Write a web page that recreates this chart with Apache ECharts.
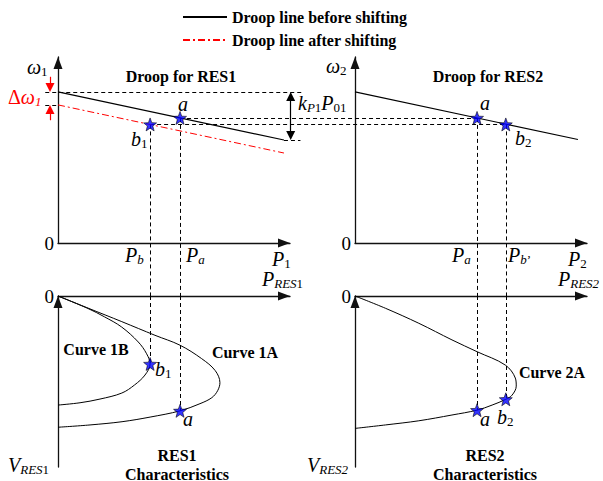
<!DOCTYPE html>
<html>
<head>
<meta charset="utf-8">
<script src="https://cdn.jsdelivr.net/npm/echarts@6/dist/echarts.min.js"></script>
<style>
  html, body { margin: 0; padding: 0; background: #fff; }
  #chart { width: 603px; height: 481px; }
</style>
</head>
<body>
<div id="chart"></div>
<script>
// ---- Droop characteristics, (P, ω) in per-unit drawing units ----
const droopBefore1 = [[0, 6.5], [9.74, 4.43]];
const droopAfter1 = [[0, 5.94], [9.74, 3.87]];
const droopBefore2 = [[0, 6.5], [9.61, 4.45]];

// Operating points on the droop lines
const P_a = 5.26;
const P_b = 3.97;
const P_bPrime = 6.5;
const omega_0 = 6.5;        // no-load frequency before shifting
const omega_0shift = 5.94;  // no-load frequency after shifting
const omega_end = 4.43;     // frequency at rated power
const omega_a = 5.38;
const omega_b = 5.10;

// ---- P–V nose curves, (P, V) with V growing downward ----
const curve1A = [[0, 0], [1.31, 0.53], [2.75, 1.11], [4.18, 1.70], [5.26, 2.13], [6.19, 2.71],
  [6.77, 3.22], [6.98, 3.75], [6.88, 4.10], [6.63, 4.40], [6.12, 4.66], [5.26, 4.97],
  [3.97, 5.24], [2.76, 5.44], [1.38, 5.58], [0, 5.68]];
const curve1B = [[0, 0], [1.29, 0.54], [2.0, 0.90], [2.74, 1.34], [3.46, 1.99], [3.82, 2.50],
  [3.97, 2.94], [3.75, 3.42], [3.30, 3.85], [2.75, 4.20], [1.81, 4.46], [0.95, 4.62], [0, 4.72]];
const curve2A = [[0, 0], [1.31, 0.53], [2.75, 1.18], [4.18, 1.90], [5.26, 2.41], [6.48, 2.99],
  [6.91, 3.55], [6.95, 3.90], [6.77, 4.29], [6.50, 4.47], [5.91, 4.72], [5.26, 4.94],
  [4.18, 5.15], [2.75, 5.40], [1.31, 5.58], [0, 5.73]];
const V_a1 = 4.97, V_b1 = 2.94, V_a2 = 4.94, V_b2 = 4.47;

// ---- Texts ----
const legendNames = ['Droop line before shifting', 'Droop line after shifting'];
const panelTitles = ['Droop for RES1', 'Droop for RES2'];
const curveNames = ['Curve 1B', 'Curve 1A', 'Curve 2A'];
const charTitles = ['RES1', 'RES2'];
const charSubtitle = 'Characteristics';

// ---- Layout ----
const SERIF = "'Liberation Serif', 'Times New Roman', serif";
const GRID_W = 232, H_TOP = 186, H_BOT = 171;
const X_MAX = 10, W_MAX = 8, V_MAX = 7.4;
const grids = [
  { left: 58, top: 57, width: GRID_W, height: H_TOP },   // droop RES1
  { left: 355, top: 57, width: GRID_W, height: H_TOP },  // droop RES2
  { left: 58, top: 296, width: GRID_W, height: H_BOT },  // P-V RES1
  { left: 355, top: 296, width: GRID_W, height: H_BOT }  // P-V RES2
];
const pxPerX = GRID_W / X_MAX;
const pxPerW = H_TOP / W_MAX;
// distance between the upper and lower P axes, in ω units
const gapW = (grids[2].top - (grids[0].top + H_TOP)) / pxPerW;
// horizontal offset of the RES2 panels, in P units of the RES1 panel
const xShift = (grids[1].left - grids[0].left) / pxPerX;

const AXIS_COLOR = '#111';
function axisLineStyle() {
  return {
    show: true, onZero: false,
    symbol: ['none', 'triangle'], symbolSize: [9, 12], symbolOffset: [0, -6],
    lineStyle: { color: AXIS_COLOR, width: 1.3 }
  };
}
function xAxisFor(i, position) {
  return {
    gridIndex: i, type: 'value', min: 0, max: X_MAX, position,
    axisLine: axisLineStyle(), axisTick: { show: false },
    axisLabel: { show: false }, splitLine: { show: false }
  };
}
function yAxisFor(i, max, inverse) {
  return {
    gridIndex: i, type: 'value', min: 0, max, interval: max, inverse,
    axisLine: axisLineStyle(), axisTick: { show: false }, splitLine: { show: false },
    axisLabel: {
      formatter: v => (v === 0 ? '0' : ''), fontFamily: SERIF, fontSize: 19,
      color: '#000', margin: 4
    }
  };
}

// five-pointed star marker
function starSymbol() {
  let d = '';
  for (let k = 0; k < 10; k++) {
    const r = k % 2 ? 0.42 : 1;
    const ang = -Math.PI / 2 + k * Math.PI / 5;
    d += (k ? 'L' : 'M') + (r * Math.cos(ang)).toFixed(3) + ',' + (r * Math.sin(ang)).toFixed(3);
  }
  return 'path://' + d + 'Z';
}
const STAR = starSymbol();

function dashed(gi, segments) {
  return {
    type: 'lines', coordinateSystem: 'cartesian2d', xAxisIndex: gi, yAxisIndex: gi,
    clip: false, silent: true, z: 2,
    lineStyle: { color: '#000', width: 1, type: [4, 3], opacity: 1 },
    data: segments.map(c => ({ coords: c }))
  };
}
function arrows(gi, segments, color, symbol) {
  return {
    type: 'lines', coordinateSystem: 'cartesian2d', xAxisIndex: gi, yAxisIndex: gi,
    clip: false, silent: true, z: 4, symbol, symbolSize: 9,
    lineStyle: { color, width: 1.2, opacity: 1 },
    itemStyle: { color },
    data: segments.map(c => ({ coords: c }))
  };
}
function curve(gi, data) {
  return {
    type: 'line', xAxisIndex: gi, yAxisIndex: gi, data, smooth: 0.35,
    symbol: 'none', silent: true, lineStyle: { color: '#000', width: 1 }, z: 3
  };
}
function stars(gi, data) {
  return {
    type: 'scatter', xAxisIndex: gi, yAxisIndex: gi, data, symbol: STAR, symbolSize: 13,
    silent: true, z: 6, itemStyle: { color: '#0000ff', borderColor: '#000', borderWidth: 0.7 }
  };
}

const halfArrowW = 4.5 / pxPerW;
const series = [
  { name: legendNames[0], type: 'line', xAxisIndex: 0, yAxisIndex: 0, data: droopBefore1,
    symbol: 'none', lineStyle: { color: '#000', width: 1.2 }, itemStyle: { color: '#000' }, z: 3 },
  { name: legendNames[1], type: 'line', xAxisIndex: 0, yAxisIndex: 0, data: droopAfter1,
    symbol: 'none', lineStyle: { color: '#ff0000', width: 1, type: [7, 3, 2, 3] },
    itemStyle: { color: '#ff0000' }, z: 3 },
  { name: legendNames[0], type: 'line', xAxisIndex: 1, yAxisIndex: 1, data: droopBefore2,
    symbol: 'none', lineStyle: { color: '#000', width: 1.2 }, itemStyle: { color: '#000' }, z: 3 },

  dashed(0, [
    [[-0.55, omega_0], [10.5, omega_0]],
    [[-0.55, omega_0shift], [0, omega_0shift]],
    [[droopBefore1[1][0], omega_end], [10.45, omega_end]],
    [[P_a, omega_a], [xShift + P_a, omega_a]],
    [[P_b, omega_b], [xShift + P_bPrime, omega_b]],
    [[P_b, omega_b], [P_b, -gapW]],
    [[P_a, omega_a], [P_a, -gapW]]
  ]),
  dashed(1, [
    [[P_a, omega_a], [P_a, -gapW]],
    [[P_bPrime, omega_b], [P_bPrime, -gapW]]
  ]),
  dashed(2, [[[P_b, 0], [P_b, V_b1]], [[P_a, 0], [P_a, V_a1]]]),
  dashed(3, [[[P_a, 0], [P_a, V_a2]], [[P_bPrime, 0], [P_bPrime, V_b2]]]),

  // k_P1·P_01 span
  arrows(0, [[[10.03, omega_0 - halfArrowW], [10.03, omega_end + halfArrowW]]], '#000', ['triangle', 'triangle']),
  // Δω1 shift markers
  arrows(0, [
    [[-0.345, 7.15], [-0.345, omega_0 + halfArrowW]],
    [[-0.345, 5.28], [-0.345, omega_0shift - halfArrowW]]
  ], '#ff0000', ['none', 'triangle']),

  curve(2, curve1A), curve(2, curve1B), curve(3, curve2A),

  stars(0, [[P_a, omega_a], [P_b, omega_b]]),
  stars(1, [[P_a, omega_a], [P_bPrime, omega_b]]),
  stars(2, [[P_a, V_a1], [P_b, V_b1]]),
  stars(3, [[P_a, V_a2], [P_bPrime, V_b2]])
];

// math-style labels: italic symbols with subscripts
const rich = {
  i: { fontFamily: SERIF, fontStyle: 'italic', fontSize: 20, lineHeight: 22 },
  u: { fontFamily: SERIF, fontSize: 20, lineHeight: 22 },
  si: { fontFamily: SERIF, fontStyle: 'italic', fontSize: 13, lineHeight: 10, verticalAlign: 'bottom' },
  su: { fontFamily: SERIF, fontSize: 13, lineHeight: 10, verticalAlign: 'bottom' }
};
function mathText(x, y, text, fill) {
  return { type: 'text', x, y, silent: true, z: 10,
    style: { text, rich, fill: fill || '#000', align: 'left', verticalAlign: 'middle',
      fontFamily: SERIF, fontSize: 20 } };
}
function boldText(x, y, text) {
  return { type: 'text', x, y, silent: true, z: 10,
    style: { text, fill: '#000', align: 'center', verticalAlign: 'middle',
      fontFamily: SERIF, fontSize: 16, fontWeight: 'bold' } };
}

const graphic = [
  boldText(181, 76, panelTitles[0]),
  boldText(488, 76, panelTitles[1]),
  boldText(96, 349, curveNames[0]),
  boldText(245, 352, curveNames[1]),
  boldText(552, 372, curveNames[2]),
  boldText(177, 455, charTitles[0]),
  boldText(177, 474, charSubtitle),
  boldText(485, 455, charTitles[1]),
  boldText(485, 474, charSubtitle),

  mathText(27, 67, '{i|ω}{su|1}'),
  mathText(8, 97, '{u|Δ}{i|ω}{si|1}', '#ff0000'),
  mathText(326, 66, '{i|ω}{su|2}'),
  mathText(178, 104, '{i|a}'),
  mathText(131, 139, '{i|b}{su|1}'),
  mathText(298, 103, '{i|k}{si|P}{su|1}{i|P}{su|01}'),
  mathText(480, 103, '{i|a}'),
  mathText(515, 138, '{i|b}{su|2}'),
  mathText(125, 255, '{i|P}{si|b}'),
  mathText(186, 255, '{i|P}{si|a}'),
  mathText(272, 259, '{i|P}{su|1}'),
  mathText(262, 279, '{i|P}{si|RES}{su|1}'),
  mathText(452, 255, '{i|P}{si|a}'),
  mathText(508, 255, '{i|P}{si|b}{su|’}'),
  mathText(568, 259, '{i|P}{su|2}'),
  mathText(558, 279, '{i|P}{si|RES2}'),
  mathText(155, 369, '{i|b}{su|1}'),
  mathText(183, 419, '{i|a}'),
  mathText(480, 419, '{i|a}'),
  mathText(497, 417, '{i|b}{su|2}'),
  mathText(8, 465, '{i|V}{si|RES}{su|1}'),
  mathText(307, 465, '{i|V}{si|RES2}')
];

const chart = echarts.init(document.getElementById('chart'), null, { renderer: 'svg' });
chart.setOption({
  animation: false,
  backgroundColor: '#fff',
  legend: {
    data: legendNames, orient: 'vertical', left: 177, top: 4,
    itemWidth: 44, itemHeight: 14, itemGap: 7, selectedMode: false,
    itemStyle: { color: 'rgba(0,0,0,0)', borderColor: 'rgba(0,0,0,0)', borderWidth: 0 },
    textStyle: { fontFamily: SERIF, fontSize: 16, fontWeight: 'bold', color: '#000' }
  },
  grid: grids,
  xAxis: [xAxisFor(0, 'bottom'), xAxisFor(1, 'bottom'), xAxisFor(2, 'top'), xAxisFor(3, 'top')],
  yAxis: [yAxisFor(0, W_MAX, false), yAxisFor(1, W_MAX, false), yAxisFor(2, V_MAX, true), yAxisFor(3, V_MAX, true)],
  series,
  graphic
});
</script>
</body>
</html>
